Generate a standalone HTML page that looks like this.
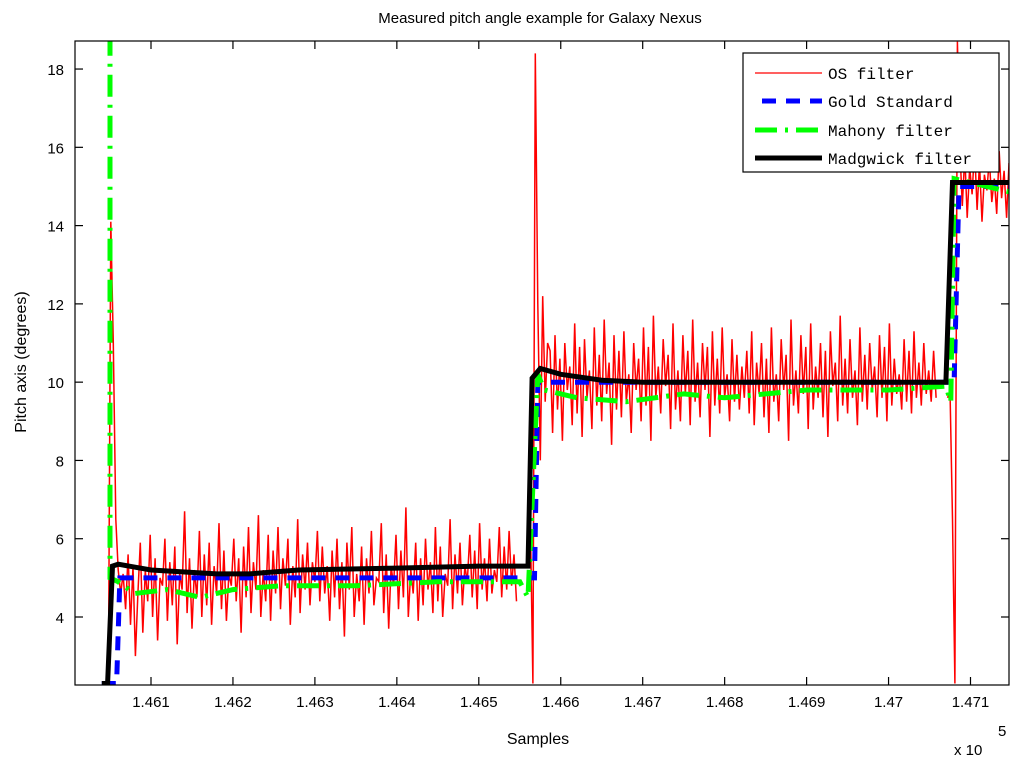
<!DOCTYPE html>
<html><head><meta charset="utf-8"><style>
body{margin:0;background:#fff}
svg{display:block}
text{font-family:"Liberation Sans",sans-serif;fill:#000}
.mono{font-family:"Liberation Mono",monospace}
</style></head><body>
<svg id="chart" width="1024" height="769">
<rect width="1024" height="769" fill="#fff"/>
<text x="540" y="23" text-anchor="middle" font-size="15">Measured pitch angle example for Galaxy Nexus</text>
<text transform="translate(26,362) rotate(-90)" text-anchor="middle" font-size="16">Pitch axis (degrees)</text>
<text x="538" y="744" text-anchor="middle" font-size="16">Samples</text>
<text x="954" y="755" font-size="15">x 10</text>
<text x="998" y="736" font-size="15">5</text>
<g id="ticks"></g>
<defs><clipPath id="pc"><rect x="75" y="41" width="934" height="644"/></clipPath></defs>
<g id="series" clip-path="url(#pc)"></g>
<rect x="75" y="41" width="934" height="644" fill="none" stroke="#000" stroke-width="1.2"/>
<g id="legend">
<rect x="743" y="53" width="256" height="119" fill="#fff" stroke="#000" stroke-width="1.2"/>
<line x1="755" y1="73" x2="822" y2="73" stroke="#f00" stroke-width="1.2"/>
<text class="mono" x="828" y="79" font-size="16">OS filter</text>
<line x1="762" y1="101" x2="822" y2="101" stroke="#00f" stroke-width="5" stroke-dasharray="14,10"/>
<text class="mono" x="828" y="107" font-size="16">Gold Standard</text>
<line x1="755" y1="130" x2="822" y2="130" stroke="#0f0" stroke-width="5" stroke-dasharray="22,8,3,8"/>
<text class="mono" x="828" y="136" font-size="16">Mahony filter</text>
<line x1="755" y1="158" x2="822" y2="158" stroke="#000" stroke-width="5"/>
<text class="mono" x="828" y="164" font-size="16">Madgwick filter</text>
</g>
</svg>
<script>
const xTicks=[146100,146200,146300,146400,146500,146600,146700,146800,146900,147000,147100];
const xTickLabels=["1.461","1.462","1.463","1.464","1.465","1.466","1.467","1.468","1.469","1.47","1.471"];
const yTicks=[4,6,8,10,12,14,16,18];
const redStep=3;
const red1Start=146048;
const red1=[2.3,14.1,11.0,6.5,5.2,4.6,5.1,4.2,5.6,3.8,5.3,3.0,4.6,5.9,3.6,5.2,4.4,6.1,4.0,5.5,3.4,5.0,4.8,6.0,3.9,5.4,4.3,5.8,3.3,5.1,4.7,6.7,4.1,5.5,3.7,5.2,4.5,6.2,4.0,5.6,4.3,5.9,3.8,5.3,4.6,6.4,4.2,5.7,3.9,5.1,4.8,6.0,4.4,5.5,3.6,5.8,4.5,6.3,4.1,5.4,4.7,6.6,4.0,5.2,4.4,6.1,3.9,5.7,4.6,6.3,4.2,5.5,4.8,6.0,3.8,5.3,4.5,6.5,4.1,5.6,4.7,5.9,4.3,5.4,4.9,6.2,4.4,5.8,4.6,
5.3,3.9,5.7,4.5,6.0,4.2,5.4,3.5,5.9,4.7,6.3,4.0,5.1,4.4,5.8,3.8,5.5,4.6,6.2,4.3,5.0,4.9,6.4,4.1,5.6,3.7,5.3,4.8,6.1,4.2,5.7,4.5,6.8,4.0,5.2,4.6,5.9,3.9,5.5,4.3,6.0,4.7,5.4,4.1,6.3,4.4,5.8,4.0,5.1,4.8,6.5,4.2,5.6,4.6,5.9,4.3,5.3,4.9,6.1,4.5,5.7,4.2,6.4,4.7,5.5,4.4,6.0,4.6,5.2,4.9,6.3,4.5,5.8,4.7,6.2,4.8,5.6,4.4];
const red2Start=146560;
const red2=[5.5,6.4,2.3,18.4,12.0,8.0,12.2,9.5,11.0,10.8,8.7,11.2,9.3,10.6,8.5,11.0,9.8,10.4,8.9,11.5,9.2,10.9,8.6,11.1,9.6,10.3,8.8,11.4,9.4,10.7,9.0,11.6,9.7,10.5,8.4,11.2,9.3,10.8,9.1,11.3,9.5,10.2,8.7,11.0,9.8,10.6,9.0,11.4,9.4,10.9,8.5,11.7,9.6,10.4,9.2,11.1,9.9,10.7,8.8,11.5,9.3,10.3,9.0,11.2,9.7,10.8,8.9,11.6,9.5,10.5,9.1,11.0,9.8,10.9,8.6,11.3,9.4,10.6,9.2,11.4,9.6,10.2,9.0,11.1,9.5,10.7,9.3,10.4,9.6,
10.8,9.2,11.3,8.9,10.5,9.7,11.0,9.1,10.6,8.7,11.4,9.5,10.2,9.0,11.1,9.8,10.7,8.5,11.6,9.4,10.3,9.2,11.2,9.7,10.9,8.8,11.5,9.3,10.4,9.6,11.0,9.1,10.8,8.6,11.3,9.9,10.5,9.0,11.7,9.4,10.6,9.2,11.1,9.6,10.3,8.9,11.4,9.5,10.7,9.3,11.0,9.8,10.4,9.1,11.2,9.6,10.9,9.0,11.5,9.4,10.6,9.7,10.2,9.3,11.1,9.5,10.8,9.2,11.3,9.6,10.5,9.4,11.0,9.7,10.3,9.5,10.8,9.6];
const red3Start=147072;
const red3=[9.6,9.8,6.5,2.3,18.7,16.0,14.5,15.8,14.2,15.5,14.8,16.0,14.4,15.6,14.1,15.3,14.9,15.7,14.6,15.2,14.3,15.9,14.7,15.4,14.2,15.6,14.9,15.1];
const goldX=[146040,146058,146062,146568,146572,147080,147086,147160];
const goldY=[2.3,2.3,5.0,5.0,10.0,10.0,15.0,15.0];
const madX=[146040,146047,146053,146060,146100,146180,146220,146280,146400,146500,146560,146565,146575,146600,146650,146700,147070,147078,147160];
const madY=[2.3,2.3,5.3,5.35,5.2,5.1,5.1,5.2,5.25,5.3,5.3,10.1,10.35,10.2,10.05,10.0,10.0,15.1,15.1];
const mahX=[146050,146050,146060,146080,146120,146160,146200,146260,146350,146450,146550,146560,146572,146580,146620,146680,146750,146800,146900,147000,147070,147076,147080,147160];
const mahY=[18.9,5.0,4.9,4.6,4.7,4.5,4.7,4.8,4.8,4.9,4.9,4.5,10.2,9.8,9.6,9.5,9.7,9.6,9.8,9.8,9.9,9.5,15.2,14.8];

const X=s=>151+(s-146100)*0.8195;
const Y=v=>617-(v-4)*39.14;
const NS='http://www.w3.org/2000/svg';
function mk(tag,attrs,parent){const e=document.createElementNS(NS,tag);for(const k in attrs)e.setAttribute(k,attrs[k]);parent.appendChild(e);return e;}
const tg=document.getElementById('ticks');
xTicks.forEach((t,i)=>{
  const x=X(t);
  const a=mk('line',{x1:x,y1:685,x2:x,y2:677,stroke:'#000','stroke-width':1.2},tg);
  
  
  const b=mk('line',{x1:x,y1:41,x2:x,y2:49,stroke:'#000','stroke-width':1.2},tg);
  
  
  const l=mk('text',{x:x,y:707,'text-anchor':'middle','font-size':15},tg);
  l.textContent=xTickLabels[i];
  
  
});
yTicks.forEach(t=>{
  const y=Y(t);
  const a=mk('line',{x1:75,y1:y,x2:83,y2:y,stroke:'#000','stroke-width':1.2},tg);
  
  
  const b=mk('line',{x1:1009,y1:y,x2:1001,y2:y,stroke:'#000','stroke-width':1.2},tg);
  
  
  const l=mk('text',{x:64,y:y+6,'text-anchor':'end','font-size':15},tg);
  l.textContent=String(t);
  
  
});
const sg=document.getElementById('series');
function poly(xs,ys,attrs,name){
  const pts=xs.map((s,i)=>X(s).toFixed(1)+','+Y(ys[i]).toFixed(1)).join(' ');
  const p=mk('polyline',Object.assign({points:pts,fill:'none'},attrs),sg);
  
  
}
function redSeg(start,vals){
  const xs=vals.map((v,i)=>start+i*redStep);
  poly(xs,vals,{stroke:'#f00','stroke-width':1.5},'os-filter-line');
}
redSeg(red1Start,red1);redSeg(red2Start,red2);redSeg(red3Start,red3);
poly(goldX,goldY,{stroke:'#00f','stroke-width':5,'stroke-dasharray':'14,10'},'gold-standard-line');
poly(mahX,mahY,{stroke:'#0f0','stroke-width':5,'stroke-dasharray':'22,8,3,8'},'mahony-filter-line');
poly(madX,madY,{stroke:'#000','stroke-width':5},'madgwick-filter-line');
</script>
</body></html>
